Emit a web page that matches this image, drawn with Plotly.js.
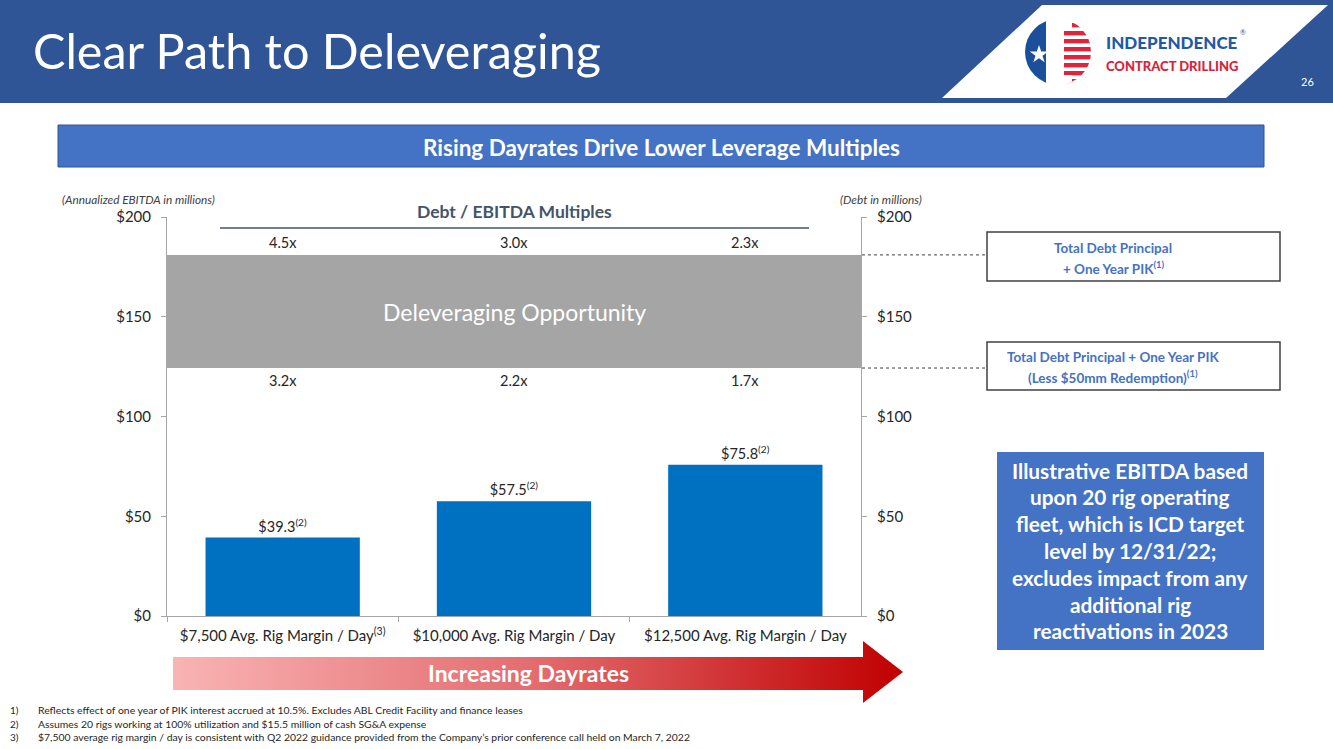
<!DOCTYPE html>
<html>
<head>
<meta charset="utf-8">
<script src="https://cdn.plot.ly/plotly-3.0.1.min.js"></script>
<style>html,body{margin:0;padding:0;background:#fff;}#chart{width:1333px;height:749px;}</style>
</head>
<body>
<div id="chart"></div>
<script>
// ---- data ----
const categories = ["$7,500 Avg. Rig Margin / Day", "$10,000 Avg. Rig Margin / Day", "$12,500 Avg. Rig Margin / Day"];
const categoryNotes = ["(3)", "", ""];
const ebitda = [39.3, 57.5, 75.8];
const ebitdaNotes = ["(2)", "(2)", "(2)"];
const debtHigh = 181;   // Total Debt Principal + One Year PIK
const debtLow = 124.3;  // Less $50mm Redemption
const multiplesHigh = ["4.5x", "3.0x", "2.3x"];
const multiplesLow = ["3.2x", "2.2x", "1.7x"];
const yTicks = [0, 50, 100, 150, 200];
const yTickText = ["$0", "$50", "$100", "$150", "$200"];
const boxHighLines = ["Total Debt Principal", "+ One Year PIK<sup>(1)</sup>"];
const boxLowLines = ["Total Debt Principal + One Year PIK", "(Less $50mm Redemption)<sup>(1)</sup>"];
const infoLines = ["Illustrative EBITDA based", "upon 20 rig operating", "fleet, which is ICD target", "level by 12/31/22;", "excludes impact from any", "additional rig", "reactivations in 2023"];
const footnotes = [
  "Reflects effect of one year of PIK interest accrued at 10.5%. Excludes ABL Credit Facility and finance leases",
  "Assumes 20 rigs working at 100% utilization and $15.5 million of cash SG&A expense",
  "$7,500 average rig margin / day is consistent with Q2 2022 guidance provided from the Company\u2019s prior conference call held on March 7, 2022"
];

// ---- helpers ----
const W = 1333, H = 749;
const X = p => p / W;
const Y = p => 1 - p / H;
const FONT = "Lato, 'Open Sans', sans-serif";
function pathPx(pts) {
  return "M " + pts.map(p => X(p[0]).toFixed(5) + "," + Y(p[1]).toFixed(5)).join(" L ") + " Z";
}
function txt(text, x, y, size, opts = {}) {
  return Object.assign({
    text: text, xref: "paper", yref: "paper", x: X(x), y: Y(y),
    xanchor: "center", yanchor: "middle", showarrow: false
  }, opts, { font: Object.assign({ family: FONT, size: size, color: "#262626" }, opts.font || {}) });
}

const tickText = categories.map((c, i) => categoryNotes[i] ? c + "<sup>" + categoryNotes[i] + "</sup>" : c);
const barText = ebitda.map((v, i) => "$" + v.toFixed(1) + "<sup>" + ebitdaNotes[i] + "</sup>");

const traces = [
  {
    type: "bar", x: categories, y: ebitda, marker: { color: "#0070C0" },
    text: barText, textposition: "outside", cliponaxis: false,
    textfont: { family: FONT, size: 14.5, color: "#262626" },
    hoverinfo: "skip", showlegend: false
  },
  {
    type: "scatter", mode: "markers", x: categories, y: ebitda, yaxis: "y2",
    marker: { opacity: 0 }, hoverinfo: "skip", showlegend: false
  }
];

// ---- shapes ----
const shapes = [
  { type: "rect", xref: "paper", yref: "paper", x0: 0, x1: 1, y0: Y(103), y1: 1, fillcolor: "#2F5597", line: { width: 0 }, layer: "below" },
  { type: "path", xref: "paper", yref: "paper", path: pathPx([[942, 98], [1042, 5], [1328, 5], [1226, 98]]), fillcolor: "#FFFFFF", line: { width: 0 }, layer: "below" },
  { type: "rect", xref: "paper", yref: "paper", x0: X(58), x1: X(1264), y0: Y(167), y1: Y(125), fillcolor: "#4472C4", line: { color: "#2F5597", width: 1 } },
  { type: "rect", xref: "x domain", yref: "y", x0: 0, x1: 1, y0: debtLow, y1: debtHigh, fillcolor: "#A5A5A5", line: { width: 0 }, layer: "below" },
  { type: "line", xref: "paper", yref: "paper", x0: X(220), x1: X(809), y0: Y(228), y1: Y(228), line: { color: "#44546A", width: 1.3 } },
  { type: "line", xref: "paper", yref: "y", x0: X(862), x1: X(987), y0: debtHigh, y1: debtHigh, line: { color: "#404040", width: 1, dash: "3px,3px" } },
  { type: "line", xref: "paper", yref: "y", x0: X(862), x1: X(987), y0: debtLow, y1: debtLow, line: { color: "#404040", width: 1, dash: "3px,3px" } },
  { type: "rect", xref: "paper", yref: "paper", x0: X(987), x1: X(1280), y0: Y(281), y1: Y(232), fillcolor: "#FFFFFF", line: { color: "#404040", width: 1.5 } },
  { type: "rect", xref: "paper", yref: "paper", x0: X(987), x1: X(1280), y0: Y(390), y1: Y(342), fillcolor: "#FFFFFF", line: { color: "#404040", width: 1.5 } },
  { type: "rect", xref: "paper", yref: "paper", x0: X(997), x1: X(1264), y0: Y(650), y1: Y(452), fillcolor: "#4472C4", line: { width: 0 } }
];

// ---- images (decorative) ----
const arrowSvg = "<svg xmlns='http://www.w3.org/2000/svg' width='730' height='63' viewBox='0 0 730 63' preserveAspectRatio='none'>" +
  "<defs><linearGradient id='g' x1='0' y1='0' x2='1' y2='0'><stop offset='0' stop-color='#F9B4B4'/><stop offset='0.5' stop-color='#E36B6E'/><stop offset='1' stop-color='#C00000'/></linearGradient></defs>" +
  "<path d='M0,16 L690,16 L690,0 L730,31 L690,62 L690,49 L0,49 Z' fill='url(#g)'/></svg>";
let stripes = "";
for (let yy = 4; yy < 66; yy += 8) stripes += "<rect x='30' y='" + yy.toFixed(1) + "' width='40' height='4.4' fill='#E0243C'/>";
const logoSvg = "<svg xmlns='http://www.w3.org/2000/svg' width='66' height='66' viewBox='0 0 66 66'>" +
  "<defs><clipPath id='c'><circle cx='33' cy='33' r='33'/></clipPath></defs>" +
  "<g clip-path='url(#c)'><rect x='0' y='0' width='66' height='66' fill='#FFFFFF'/>" +
  "<rect x='0' y='0' width='22' height='66' fill='#1B4F9C'/>" + stripes +
  "<path d='M21,0 L47,0 L47,10 L39,10 L39,56 L47,56 L47,66 L21,66 Z' fill='#FFFFFF'/>" +
  "<path d='M14,26 L16.2,32.6 L23.2,32.6 L17.5,36.7 L19.7,43.3 L14,39.2 L8.3,43.3 L10.5,36.7 L4.8,32.6 L11.8,32.6 Z' fill='#FFFFFF'/></g></svg>";
const images = [
  { source: "data:image/svg+xml;charset=utf-8," + encodeURIComponent(arrowSvg), xref: "paper", yref: "paper",
    x: X(173), y: Y(641), sizex: 730 / W, sizey: 63 / H, xanchor: "left", yanchor: "top", sizing: "stretch", layer: "below" },
  { source: "data:image/svg+xml;charset=utf-8," + encodeURIComponent(logoSvg), xref: "paper", yref: "paper",
    x: X(1025), y: Y(19), sizex: 66 / W, sizey: 66 / H, xanchor: "left", yanchor: "top", sizing: "stretch", layer: "above" }
];

// ---- annotations ----
const annotations = [
  txt("Clear Path to Deleveraging", 31, 50, 48.5, { xanchor: "left", font: { color: "#FFFFFF" } }),
  txt("INDEPENDENCE", 1104, 42, 17, { xanchor: "left", font: { color: "#1F5AA6", weight: 900 } }),
  txt("\u00AE", 1238, 32, 7, { xanchor: "left", font: { color: "#1F5AA6" } }),
  txt("CONTRACT DRILLING", 1104, 66, 13, { xanchor: "left", font: { color: "#D7233C", weight: 900 } }),
  txt("26", 1307, 82, 11, { font: { color: "#FFFFFF" } }),
  txt("Rising Dayrates Drive Lower Leverage Multiples", 661, 147, 22.5, { font: { color: "#FFFFFF", weight: 700 } }),
  txt("(Annualized EBITDA in millions)", 60, 199, 11.8, { xanchor: "left", font: { color: "#404040", style: "italic" } }),
  txt("(Debt in millions)", 838, 199, 11.8, { xanchor: "left", font: { color: "#404040", style: "italic" } }),
  txt("Debt / EBITDA Multiples", 514, 211, 17.5, { font: { color: "#44546A", weight: 700 } }),
  txt("Deleveraging Opportunity", 514, 312, 23, { font: { color: "#FFFFFF" } }),
  txt("Increasing Dayrates", 528, 673, 23, { font: { color: "#FFFFFF", weight: 700 } })
];
boxHighLines.forEach((l, i) => annotations.push(txt(l, 1113, 248 + i * 20, 13.5, { font: { color: "#4472C4", weight: 700 } })));
boxLowLines.forEach((l, i) => annotations.push(txt(l, 1113, 357 + i * 20, 13.5, { font: { color: "#4472C4", weight: 700 } })));
categories.forEach((c, i) => {
  annotations.push({ text: multiplesHigh[i], xref: "x", yref: "y", x: c, y: debtHigh, yanchor: "middle", yshift: 12, showarrow: false, font: { family: FONT, size: 14.5, color: "#262626" } });
  annotations.push({ text: multiplesLow[i], xref: "x", yref: "y", x: c, y: debtLow, yanchor: "middle", yshift: -12, showarrow: false, font: { family: FONT, size: 14.5, color: "#262626" } });
});
infoLines.forEach((l, i) => {
  annotations.push(txt(l, 1130, 470 + i * 26.8, 20.8, { font: { color: "#FFFFFF", weight: 700 } }));
});
footnotes.forEach((f, i) => {
  annotations.push(txt((i + 1) + ")", 8, 710 + i * 13.5, 10, { xanchor: "left" }));
  annotations.push(txt(f, 36, 710 + i * 13.5, 10.4, { xanchor: "left" }));
});

const axisCommon = {
  range: [0, 200], tickvals: yTicks, ticktext: yTickText, showgrid: false, zeroline: false,
  showline: true, linecolor: "#A6A6A6", linewidth: 1, ticks: "outside", ticklen: 5, tickcolor: "#A6A6A6",
  ticklabelstandoff: 7,
  tickfont: { family: FONT, size: 15, color: "#262626" }, fixedrange: true
};

const layout = {
  width: W, height: H, margin: { l: 0, r: 0, t: 0, b: 0 },
  paper_bgcolor: "#FFFFFF", plot_bgcolor: "rgba(0,0,0,0)",
  showlegend: false, bargap: 0.333,
  xaxis: {
    domain: [X(167), X(861)], type: "category", tickvals: categories, ticktext: tickText,
    showline: true, linecolor: "#A6A6A6", linewidth: 1, ticks: "outside", tickson: "boundaries", ticklen: 5, tickcolor: "#A6A6A6",
    ticklabelstandoff: 6,
    tickfont: { family: FONT, size: 15, color: "#262626" }, showgrid: false, fixedrange: true, anchor: "y"
  },
  yaxis: Object.assign({}, axisCommon, { domain: [1 - 616 / H, 1 - 217 / H], side: "left", anchor: "x" }),
  yaxis2: Object.assign({}, axisCommon, { overlaying: "y", side: "right", anchor: "x" }),
  shapes: shapes, images: images, annotations: annotations,
  hovermode: false
};

Plotly.newPlot("chart", traces, layout, { displayModeBar: false, staticPlot: true });
</script>
</body>
</html>
